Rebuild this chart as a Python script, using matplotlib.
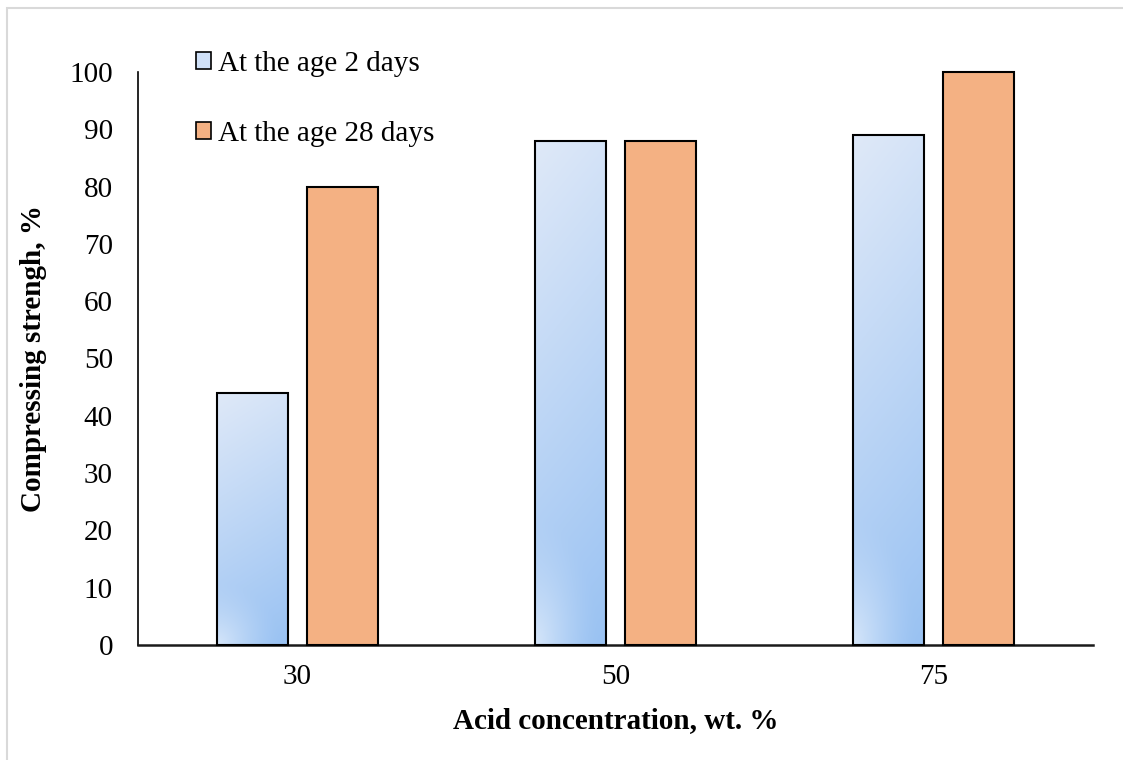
import numpy as np
import matplotlib
matplotlib.use("Agg")
import matplotlib.pyplot as plt
from matplotlib.patches import Patch, Rectangle

categories = ["30", "50", "75"]
age_2_days = [44, 88, 89]
age_28_days = [80, 88, 100]
series_labels = ["At the age 2 days", "At the age 28 days"]
y_ticks = [0, 10, 20, 30, 40, 50, 60, 70, 80, 90, 100]

plt.rcParams["font.family"] = ["Liberation Serif", "DejaVu Serif"]

fig = plt.figure(figsize=(11.23, 7.6), dpi=100)
ax = fig.add_axes([138 / 1123, 1 - 645 / 760, (1093 - 138) / 1123, (645 - 72) / 760])

# light grey outline of the chart area
fig.patches.append(Rectangle((7 / 1123, -0.05), 1.1, 1 - 8 / 760 + 0.05,
                             transform=fig.transFigure, fill=False,
                             edgecolor="#d9d9d9", linewidth=1.5))

x = np.arange(len(categories))
width = 0.223
offset = 0.1415

orange = "#f4b183"
blue_top = np.array([0.875, 0.914, 0.973])
blue_bottom = np.array([0.600, 0.760, 0.950])


def gradient_image(n=200):
    ty = np.linspace(0, 1, n)[:, None]          # 0 at top, 1 at bottom
    tx = np.linspace(0, 1, n)[None, :]
    t = np.clip(ty * 0.85 + tx * 0.15, 0, 1)
    img = blue_top[None, None, :] * (1 - t[..., None]) + blue_bottom[None, None, :] * t[..., None]
    # soft highlight in the lower-left corner
    r = np.sqrt((tx / 0.9) ** 2 + ((1 - ty) / 0.25) ** 2)
    h = np.clip(1 - r, 0, 1) ** 1.5 * 0.55
    img = img * (1 - h[..., None]) + h[..., None]
    return img


bars_blue = ax.bar(x - offset, age_2_days, width, color="none", edgecolor="black",
                   linewidth=1.5, zorder=3, clip_on=False)
grad = gradient_image()
for b in bars_blue:
    x0, y0 = b.get_x(), b.get_y()
    w, hgt = b.get_width(), b.get_height()
    im = ax.imshow(grad, extent=[x0, x0 + w, y0, y0 + hgt], origin="upper",
                   aspect="auto", zorder=2, interpolation="bilinear")
    im.set_clip_path(b)

ax.bar(x + offset, age_28_days, width, color=orange, edgecolor="black",
       linewidth=1.5, zorder=3, clip_on=False)

ax.set_xlim(-0.5, len(categories) - 0.5)
ax.set_ylim(0, 100)
ax.set_xticks(x)
ax.set_xticklabels(categories)
ax.set_yticks(y_ticks)
ax.tick_params(axis="both", length=0, labelsize=21)
ax.tick_params(axis="y", pad=18)
ax.tick_params(axis="x", pad=14)

for s in ["top", "right"]:
    ax.spines[s].set_visible(False)
ax.spines["left"].set_linewidth(1.2)
ax.spines["bottom"].set_linewidth(1.8)
ax.spines["bottom"].set_color("#1a1a1a")

ax.set_xlabel("Acid concentration, wt. %", fontsize=21, fontweight="bold", labelpad=12)
ax.set_ylabel("Compressing strengh, %", fontsize=21, fontweight="bold", labelpad=16)

handles = [Patch(facecolor="#cfe0f7", edgecolor="black", linewidth=1.2),
           Patch(facecolor=orange, edgecolor="black", linewidth=1.2)]
fig.legend(handles, series_labels, loc="upper left",
           bbox_to_anchor=(196 / 1123, 1 - 51 / 760), frameon=False,
           fontsize=21, handlelength=0.5, handleheight=0.5, handletextpad=0.25,
           labelspacing=1.5, borderpad=0, borderaxespad=0)

fig.savefig("out.png", dpi=100)
